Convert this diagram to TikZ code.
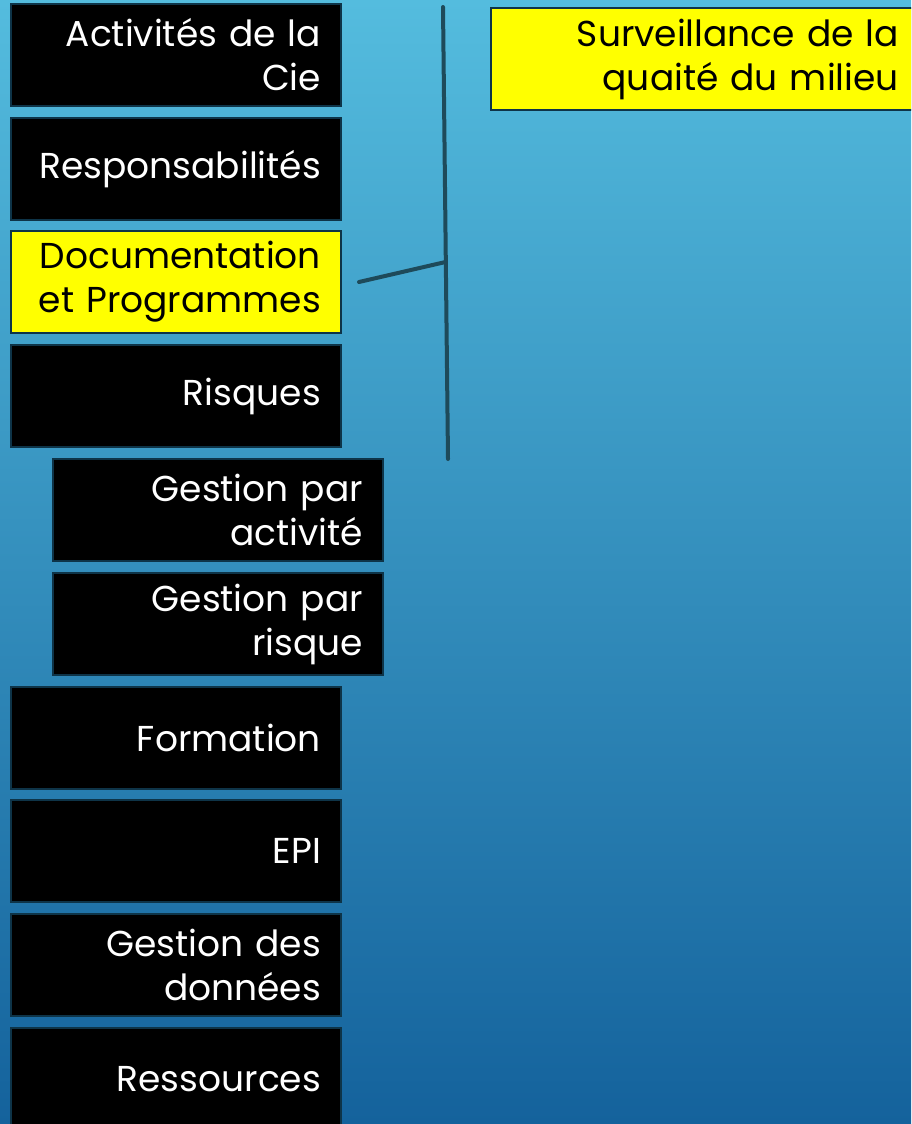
\documentclass[tikz,border=0pt]{standalone}
\usepackage{fontspec}
\setmainfont{Poppins}
\usetikzlibrary{calc}
\definecolor{bgtop}{RGB}{84,188,222}
\definecolor{bgbot}{RGB}{20,98,156}
\definecolor{edgec}{RGB}{14,52,72}
\definecolor{linec}{RGB}{30,74,90}
\definecolor{yel}{RGB}{255,255,0}
\tikzset{
  box/.style={draw=edgec, line width=2pt, anchor=north west, minimum height=102pt,
    inner xsep=20pt, inner ysep=0pt, text width=290pt, align=right,
    font=\fontsize{36}{44}\selectfont},
  blackbox/.style={box, fill=black, text=white},
  yellowbox/.style={box, fill=yel, text=black},
  conn/.style={draw=linec, line width=4pt, line cap=round}
}
\begin{document}
\begin{tikzpicture}[x=1pt,y=-1pt]
\useasboundingbox (0,0) rectangle (911,1124);
\clip (0,0) rectangle (911,1124);
\shade[top color=bgtop, bottom color=bgbot] (0,0) rectangle (911,1124);
\node[blackbox] (cie) at (10,3) {Activités de la\\Cie};
\node[blackbox] (resp) at (10,117) {Responsabilités};
\node[yellowbox] (doc) at (10,230) {Documentation\\et Programmes};
\node[blackbox] (risq) at (10,344) {Risques};
\node[blackbox] (gact) at (52,458) {Gestion par\\activité};
\node[blackbox] (grisq) at (52,572) {Gestion par\\risque};
\node[blackbox] (form) at (10,686) {Formation};
\node[blackbox] (epi) at (10,799) {EPI};
\node[blackbox] (gdon) at (10,913) {Gestion des\\données};
\node[blackbox] (ress) at (10,1027) {Ressources};
\node[yellowbox, text width=388pt] (surv) at (490,7) {Surveillance de la\\quaité du milieu};
\coordinate (vt) at (443,7);
\coordinate (vb) at (448,459);
\coordinate (bj) at ($(vt)!0.564!(vb)$);
\coordinate (bs) at ($(doc.east)+(17,0)$);
\draw[conn] (vt) -- (vb);
\draw[conn] (bs) -- (bj);
\end{tikzpicture}
\end{document}
